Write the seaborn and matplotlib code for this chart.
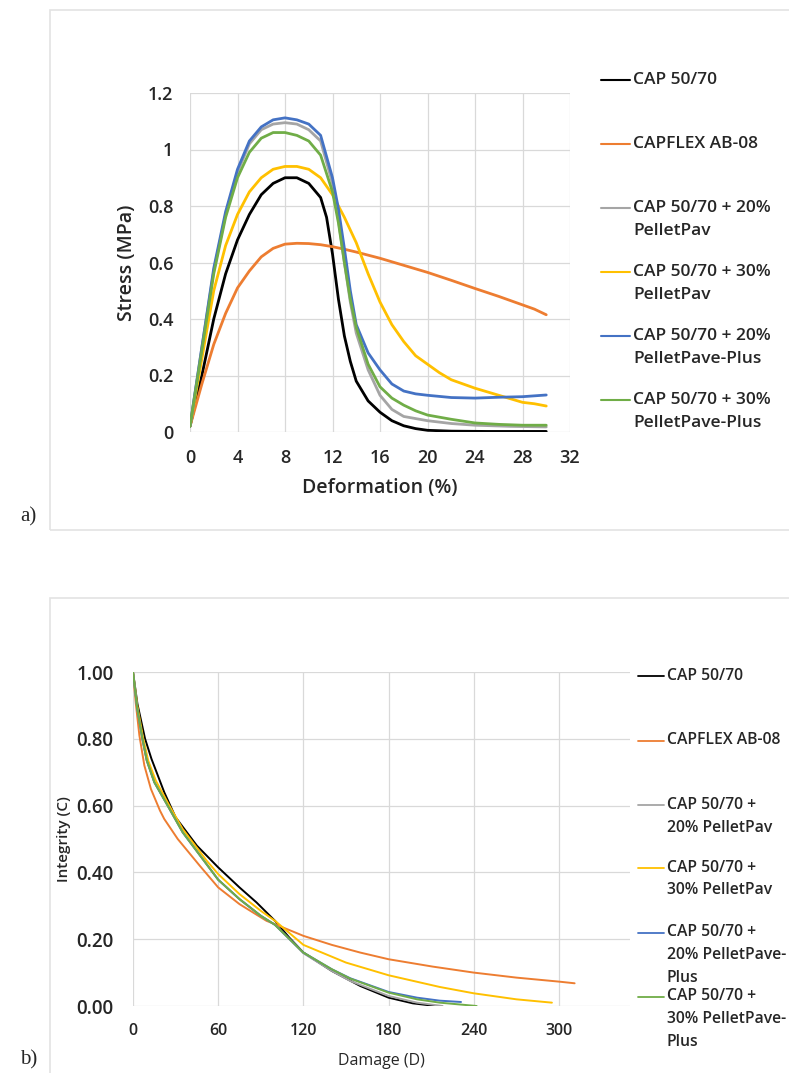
import matplotlib
matplotlib.use("Agg")

import matplotlib.pyplot as plt  # noqa: E402
import numpy as np  # noqa: E402
import pandas as pd  # noqa: E402
import seaborn as sns  # noqa: E402
from matplotlib.lines import Line2D  # noqa: E402
from matplotlib.patches import Rectangle  # noqa: E402

sns.set_theme(style="whitegrid")
plt.rcParams["font.family"] = ["Open Sans", "DejaVu Sans"]

W, H = 789, 1073

SERIES = ["CAP 50/70", "CAPFLEX AB-08", "CAP 50/70 + 20% PelletPav",
          "CAP 50/70 + 30% PelletPav", "CAP 50/70 + 20% PelletPave-Plus",
          "CAP 50/70 + 30% PelletPave-Plus"]
COLORS = ["#000000", "#ED7D31", "#A5A5A5", "#FFC000", "#4472C4", "#70AD47"]

# --- a) stress x deformation ---
def_cap = [0, 1, 2, 3, 4, 5, 6, 7, 8, 9, 10, 11, 11.5, 12, 12.5, 13, 13.5, 14, 15, 16, 17, 18, 19, 20, 22, 25, 30]
str_cap = [0.02, 0.2, 0.4, 0.56, 0.68, 0.77, 0.84, 0.88, 0.9, 0.9, 0.88, 0.83, 0.76, 0.63, 0.47, 0.34, 0.25, 0.18, 0.11, 0.07, 0.04, 0.022, 0.012, 0.006, 0.003, 0.002, 0.002]

def_flex = [0, 1, 2, 3, 4, 5, 6, 7, 8, 9, 10, 11, 12, 13, 14, 16, 18, 20, 22, 24, 26, 28, 29, 30]
str_flex = [0.02, 0.17, 0.31, 0.42, 0.51, 0.57, 0.62, 0.65, 0.665, 0.668, 0.667, 0.663, 0.656, 0.647, 0.637, 0.615, 0.59, 0.565, 0.537, 0.508, 0.48, 0.45, 0.435, 0.415]

def_pp20 = [0, 1, 2, 3, 4, 5, 6, 7, 8, 9, 10, 11, 12, 12.5, 13, 13.5, 14, 15, 16, 17, 18, 20, 22, 24, 27, 30]
str_pp20 = [0.02, 0.3, 0.57, 0.77, 0.92, 1.02, 1.07, 1.09, 1.095, 1.09, 1.07, 1.03, 0.88, 0.75, 0.6, 0.46, 0.35, 0.22, 0.13, 0.08, 0.055, 0.04, 0.03, 0.024, 0.02, 0.018]

def_pp30 = [0, 1, 2, 3, 4, 5, 6, 7, 8, 9, 10, 11, 12, 13, 14, 15, 16, 17, 18, 19, 20, 21, 22, 24, 26, 28, 29, 30]
str_pp30 = [0.02, 0.26, 0.5, 0.66, 0.77, 0.85, 0.9, 0.93, 0.94, 0.94, 0.93, 0.9, 0.84, 0.76, 0.67, 0.56, 0.46, 0.38, 0.32, 0.27, 0.24, 0.21, 0.185, 0.155, 0.13, 0.105, 0.1, 0.092]

def_ppp20 = [0, 1, 2, 3, 4, 5, 6, 7, 8, 9, 10, 11, 12, 12.5, 13, 13.5, 14, 15, 16, 17, 18, 19, 20, 22, 24, 26, 28, 30]
str_ppp20 = [0.02, 0.3, 0.58, 0.78, 0.93, 1.03, 1.08, 1.105, 1.112, 1.105, 1.09, 1.05, 0.9, 0.79, 0.65, 0.5, 0.38, 0.28, 0.22, 0.17, 0.145, 0.135, 0.13, 0.122, 0.12, 0.123, 0.125, 0.131]

def_ppp30 = [0, 1, 2, 3, 4, 5, 6, 7, 8, 9, 10, 11, 12, 12.5, 13, 13.5, 14, 15, 16, 17, 18, 19, 20, 22, 24, 26, 28, 30]
str_ppp30 = [0.02, 0.29, 0.56, 0.76, 0.9, 0.99, 1.04, 1.06, 1.06, 1.05, 1.03, 0.98, 0.85, 0.74, 0.6, 0.47, 0.37, 0.24, 0.16, 0.12, 0.095, 0.075, 0.06, 0.045, 0.032, 0.027, 0.024, 0.024]

# --- b) integrity x damage ---
dmg_cap = [0, 3.1, 8.5, 13, 22, 30, 45, 60, 75, 87, 100, 110, 120, 140, 160, 180, 197, 213]
int_cap = [1.0, 0.905, 0.8, 0.74, 0.64, 0.565, 0.48, 0.415, 0.355, 0.31, 0.255, 0.205, 0.16, 0.105, 0.06, 0.025, 0.008, 0.0]

dmg_flex = [0, 1, 2, 4.5, 8, 12.6, 19, 22, 31.5, 47, 60, 75, 94, 100, 120, 140, 160, 180, 211, 240, 270, 300, 311]
int_flex = [1.0, 0.95, 0.905, 0.81, 0.72, 0.65, 0.585, 0.56, 0.5, 0.42, 0.355, 0.305, 0.255, 0.245, 0.21, 0.183, 0.16, 0.14, 0.118, 0.1, 0.085, 0.073, 0.068]

dmg_pp20 = [0, 3, 6.6, 9.7, 15, 24.4, 35, 49.8, 60, 75, 90, 100, 120, 140, 153, 180, 200, 218]
int_pp20 = [1.0, 0.89, 0.8, 0.735, 0.67, 0.6, 0.52, 0.436, 0.378, 0.32, 0.27, 0.243, 0.158, 0.105, 0.075, 0.03, 0.01, 0.0]

dmg_pp30 = [0, 3, 7, 10.7, 16, 25.6, 35, 51.7, 60, 75, 90, 100, 120, 150, 180, 216, 240, 270, 295]
int_pp30 = [1.0, 0.9, 0.805, 0.735, 0.675, 0.6, 0.53, 0.436, 0.395, 0.335, 0.285, 0.255, 0.183, 0.13, 0.092, 0.057, 0.038, 0.02, 0.01]

dmg_ppp20 = [0, 3, 6.6, 9.7, 15, 24.4, 35, 49.8, 60, 75, 90, 100, 120, 140, 153, 180, 200, 216, 231]
int_ppp20 = [1.0, 0.89, 0.8, 0.735, 0.67, 0.6, 0.52, 0.436, 0.378, 0.32, 0.27, 0.243, 0.16, 0.11, 0.083, 0.042, 0.025, 0.016, 0.012]

dmg_ppp30 = [0, 3, 6.6, 9.7, 15, 24.4, 35, 49.8, 60, 75, 90, 100, 120, 140, 153, 180, 200, 216, 242]
int_ppp30 = [1.0, 0.89, 0.8, 0.735, 0.67, 0.6, 0.52, 0.436, 0.378, 0.32, 0.27, 0.243, 0.16, 0.11, 0.082, 0.04, 0.02, 0.01, 0.0]

stress_x = [def_cap, def_flex, def_pp20, def_pp30, def_ppp20, def_ppp30]
stress_y = [str_cap, str_flex, str_pp20, str_pp30, str_ppp20, str_ppp30]
dmg_x = [dmg_cap, dmg_flex, dmg_pp20, dmg_pp30, dmg_ppp20, dmg_ppp30]
int_y = [int_cap, int_flex, int_pp20, int_pp30, int_ppp20, int_ppp30]

df_a = pd.concat([pd.DataFrame({"x": x, "y": y, "s": s})
                  for x, y, s in zip(stress_x, stress_y, SERIES)], ignore_index=True)
df_b = pd.concat([pd.DataFrame({"x": x, "y": y, "s": s})
                  for x, y, s in zip(dmg_x, int_y, SERIES)], ignore_index=True)
palette = dict(zip(SERIES, COLORS))


def px_axes(left, top, right, bottom):
    return fig.add_axes([left / W, 1 - bottom / H, (right - left) / W, (bottom - top) / H])


fig = plt.figure(figsize=(W / 100, H / 100), dpi=100)
fig.patch.set_facecolor("white")

# panel frames
fig.add_artist(Rectangle((50 / W, 1 - 530 / H), 760 / W, 520 / H, transform=fig.transFigure,
                         fill=False, edgecolor="#E3E3E3", linewidth=1.2))
fig.add_artist(Rectangle((50 / W, -0.05), 760 / W, 1 - 598 / H + 0.05, transform=fig.transFigure,
                         fill=False, edgecolor="#E3E3E3", linewidth=1.2))

grid_kw = dict(color="#D9D9D9", linewidth=0.9)
txt = "#262626"

# ---- a)
ax1 = px_axes(190, 93, 570, 432)
sns.lineplot(data=df_a, x="x", y="y", hue="s", palette=palette, sort=False,
             estimator=None, linewidth=2.0, legend=False, ax=ax1)
ax1.set_xlim(0, 32)
ax1.set_ylim(0, 1.2)
ax1.set_xticks(np.arange(0, 33, 4))
ax1.set_yticks([0, 0.2, 0.4, 0.6, 0.8, 1.0, 1.2])
ax1.set_yticklabels(["0", "0.2", "0.4", "0.6", "0.8", "1", "1.2"])
ax1.grid(True, **grid_kw)
for sp in ax1.spines.values():
    sp.set_visible(False)
ax1.tick_params(length=0, labelsize=13, labelcolor=txt, pad=12)
for lab in ax1.get_xticklabels() + ax1.get_yticklabels():
    lab.set_fontweight("semibold")
ax1.set_xlabel("Deformation (%)", fontsize=14, fontweight="semibold", color=txt, labelpad=8)
ax1.set_ylabel("Stress (MPa)", fontsize=14, fontweight="semibold", color=txt)
ax1.yaxis.set_label_coords(-0.139, 0.5)

leg_a = [["CAP 50/70"], ["CAPFLEX AB-08"], ["CAP 50/70 + 20%", "PelletPav"],
         ["CAP 50/70 + 30%", "PelletPav"], ["CAP 50/70 + 20%", "PelletPave-Plus"],
         ["CAP 50/70 + 30%", "PelletPave-Plus"]]
for i, (lines, c) in enumerate(zip(leg_a, COLORS)):
    y0 = 80 + i * 64
    fig.add_artist(Line2D([601 / W, 630 / W], [1 - y0 / H] * 2, color=c, linewidth=1.5,
                          transform=fig.transFigure))
    for j, t in enumerate(lines):
        fig.text(633 / W, 1 - (y0 + j * 23) / H, t, fontsize=12.5, fontweight="semibold",
                 color=txt, va="center", ha="left")

fig.text(20 / W, 1 - 517 / H, "a)", fontsize=15, family="Liberation Serif", va="center")

# ---- b)
ax2 = px_axes(133, 672, 630, 1006)
sns.lineplot(data=df_b, x="x", y="y", hue="s", palette=palette, sort=False,
             estimator=None, linewidth=1.4, legend=False, ax=ax2)
ax2.set_xlim(0, 350)
ax2.set_ylim(0, 1.0)
ax2.set_xticks(np.arange(0, 301, 60))
ax2.set_yticks(np.arange(0, 1.01, 0.2))
ax2.set_yticklabels([f"{v:.2f}" for v in np.arange(0, 1.01, 0.2)])
ax2.grid(True, **grid_kw)
for sp in ax2.spines.values():
    sp.set_visible(False)
ax2.tick_params(axis="y", length=0, labelsize=13.5, labelcolor=txt, pad=14)
ax2.tick_params(axis="x", length=0, labelsize=11.5, labelcolor=txt, pad=12)
for lab in ax2.get_xticklabels() + ax2.get_yticklabels():
    lab.set_fontweight("semibold")
ax2.set_xlabel("Damage (D)", fontsize=11.5, color=txt, labelpad=10)
ax2.set_ylabel("Integrity (C)", fontsize=11, fontweight="semibold", color=txt)
ax2.yaxis.set_label_coords(-0.125, 0.5)

leg_b = [["CAP 50/70"], ["CAPFLEX AB-08"], ["CAP 50/70 +", "20% PelletPav"],
         ["CAP 50/70 +", "30% PelletPav"], ["CAP 50/70 +", "20% PelletPave-", "Plus"],
         ["CAP 50/70 +", "30% PelletPave-", "Plus"]]
leg_b_y = [676, 740.5, 805, 868, 932.5, 996.5]
for lines, c, y0 in zip(leg_b, COLORS, leg_b_y):
    fig.add_artist(Line2D([638 / W, 664 / W], [1 - y0 / H] * 2, color=c, linewidth=1.3,
                          transform=fig.transFigure))
    for j, t in enumerate(lines):
        fig.text(667 / W, 1 - (y0 + j * 22.5) / H, t, fontsize=11.3,
                 fontweight="semibold", color=txt, va="center", ha="left")

fig.text(20 / W, 1 - 1060 / H, "b)", fontsize=15, family="Liberation Serif", va="center")

fig.savefig("out.png", dpi=100)
